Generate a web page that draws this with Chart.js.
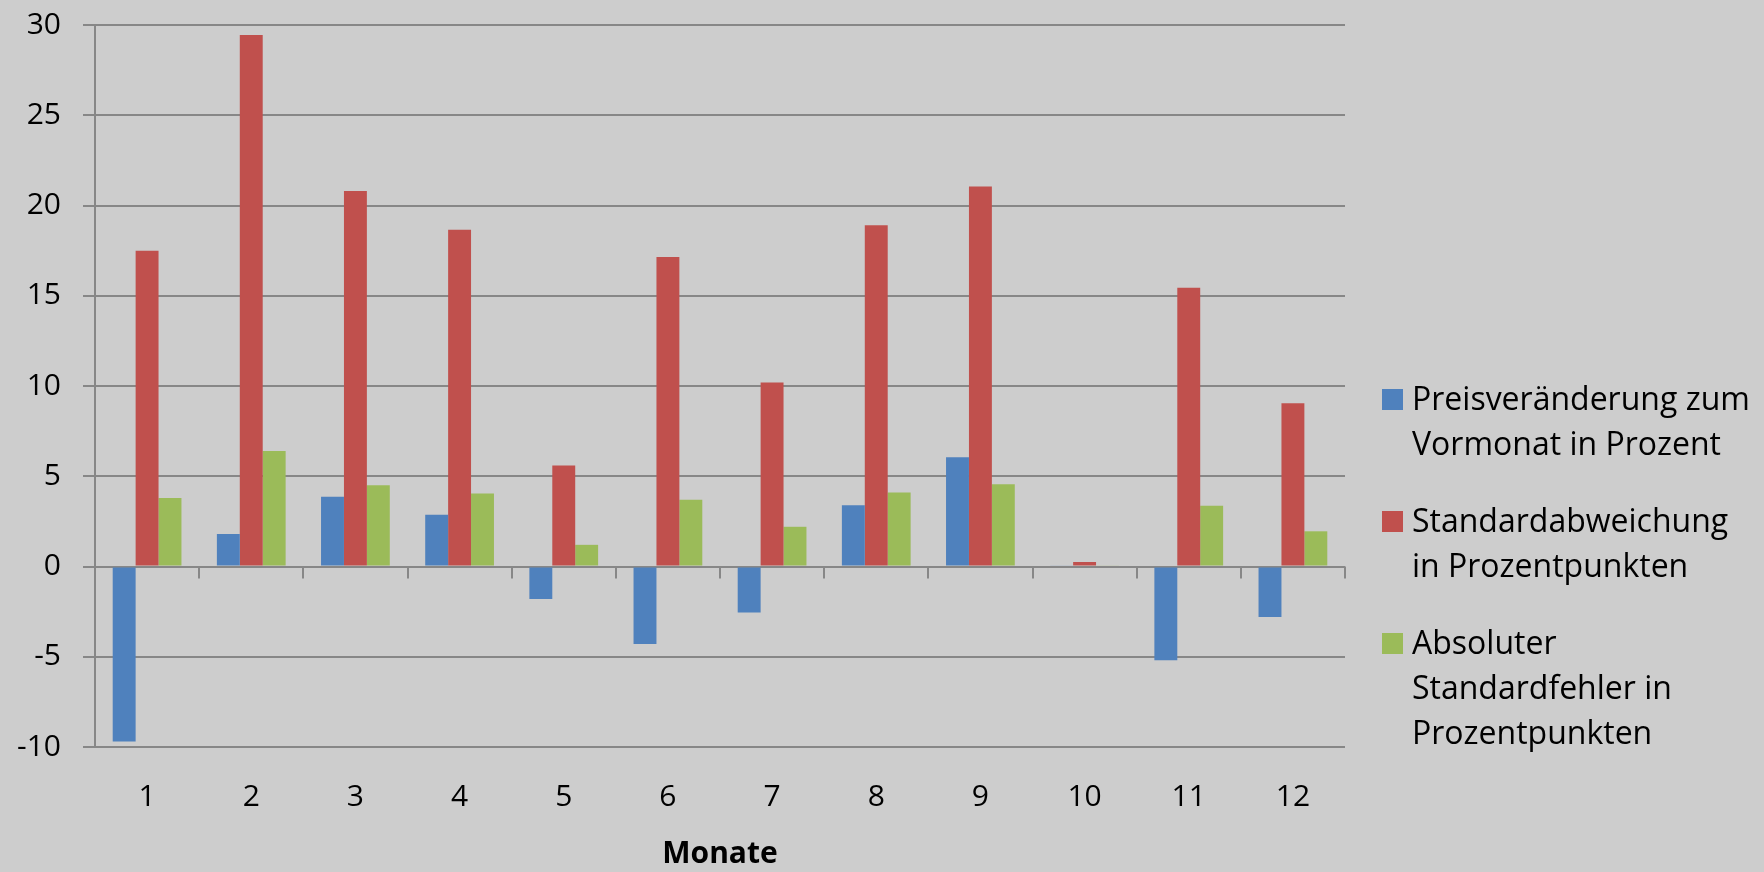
<!DOCTYPE html>
<html><head><meta charset="utf-8">
<script src="https://cdn.jsdelivr.net/npm/chart.js@4"></script>
<style>
html,body{margin:0;padding:0;background:#cdcdcd;}
#wrap{position:relative;width:1764px;height:872px;background:#cdcdcd;}
canvas{display:block}
#legend{position:absolute;left:1382px;top:375px;font-family:'Open Sans';font-size:32px;line-height:45px;color:#000}
.item{display:flex;align-items:flex-start;margin-bottom:32px}
.sw{width:21px;height:21px;margin-top:14px;margin-right:9px;flex:none}
</style></head>
<body>
<div id="wrap"><canvas id="c" width="1764" height="872"></canvas><div id="legend"></div></div>
<script>
const months = ["1","2","3","4","5","6","7","8","9","10","11","12"];
const preisveraenderung = [-9.7, 1.8, 3.87, 2.87, -1.8, -4.3, -2.55, 3.4, 6.05, 0.05, -5.2, -2.8];
const standardabweichung = [17.5, 29.45, 20.8, 18.65, 5.6, 17.15, 10.2, 18.9, 21.05, 0.25, 15.45, 9.05];
const standardfehler = [3.8, 6.4, 4.5, 4.05, 1.2, 3.7, 2.2, 4.1, 4.55, 0.05, 3.37, 1.95];
const seriesLines = [["Preisveränderung zum","Vormonat in Prozent"],["Standardabweichung","in Prozentpunkten"],["Absoluter","Standardfehler in","Prozentpunkten"]];
const colors = ["#4f81bd","#c0504d","#9bbb59"];
const yTicks = {min:-10, max:30, step:5};
const gridColor = "#878787";

const zeroTicks = {id:'zeroTicks', afterDatasetsDraw(chart){
  const {ctx, scales:{x,y}} = chart; const y0 = y.getPixelForValue(0);
  ctx.save(); ctx.strokeStyle=gridColor; ctx.lineWidth=2;
  for(let i=0;i<=months.length;i++){ const px = Math.round(x.getPixelForValue(i-0.5)); ctx.beginPath(); ctx.moveTo(px,y0); ctx.lineTo(px,y0+12); ctx.stroke(); }
  ctx.restore();
}};

const series = [preisveraenderung, standardabweichung, standardfehler];
new Chart(document.getElementById('c'), {
  type:'bar',
  data:{labels:months, datasets: series.map((d,i)=>({label:seriesLines[i].join(' '), data:d, backgroundColor:colors[i], borderWidth:0, categoryPercentage:0.66, barPercentage:1}))},
  options:{
    responsive:false, animation:false,
    layout:{padding:{top:25,right:419,left:0,bottom:0}},
    plugins:{legend:{display:false}, tooltip:{enabled:false}},
    scales:{
      x:{grid:{display:false}, border:{display:false},
         ticks:{font:{family:'Open Sans',size:30}, color:'#000', padding:24},
         title:{display:true,text:'Monate',font:{family:'Open Sans',size:30,weight:'bold'},color:'#000',padding:{top:18,bottom:0}},
         afterFit(s){s.height=125; s.paddingLeft=0; s.paddingRight=0;}},
      y:{min:yTicks.min,max:yTicks.max,
         ticks:{stepSize:yTicks.step,font:{family:'Open Sans',size:30},color:'#000',padding:22},
         grid:{color:gridColor,lineWidth:2,tickLength:12},
         border:{color:gridColor,width:2},
         afterFit(s){s.width=95; s.paddingTop=0; s.paddingBottom=0;}}
    }
  },
  plugins:[zeroTicks]
});

const lg = document.getElementById('legend');
seriesLines.forEach((lines,i)=>{
  const it=document.createElement('div'); it.className='item';
  const sw=document.createElement('div'); sw.className='sw'; sw.style.background=colors[i];
  const tx=document.createElement('div'); tx.innerHTML=lines.join('<br>');
  it.appendChild(sw); it.appendChild(tx); lg.appendChild(it);
});
</script>
</body></html>
